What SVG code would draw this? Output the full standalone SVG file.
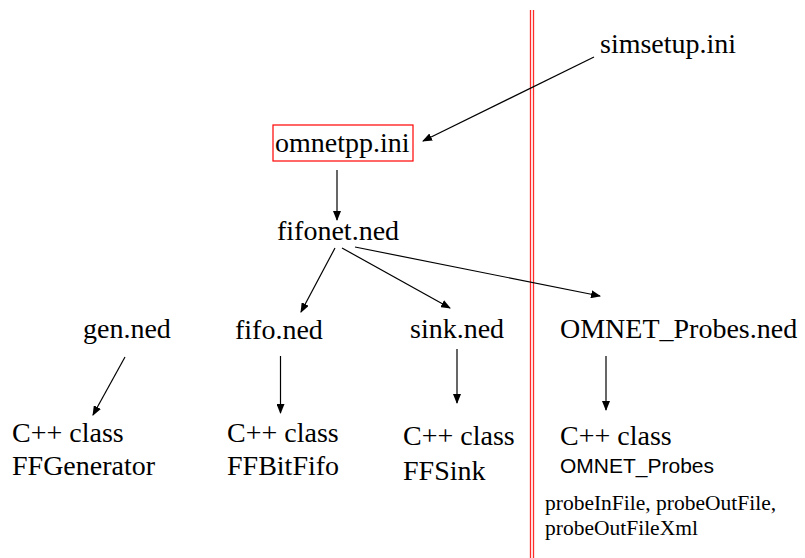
<svg xmlns="http://www.w3.org/2000/svg" width="805" height="558" viewBox="0 0 805 558">
<style>
.t{font-family:"Liberation Serif","Times New Roman",serif;font-size:28px;fill:#000}
.a{font-family:"Liberation Sans",Arial,sans-serif;font-size:21px;fill:#000}
.s{font-family:"Liberation Serif","Times New Roman",serif;font-size:21.5px;fill:#000}
.c{stroke:#000;stroke-width:1.2;fill:none;marker-end:url(#ah)}
.r{stroke:#ff2a2a;stroke-width:1.3}
</style>
<defs>
<marker id="ah" markerWidth="10" markerHeight="8" refX="9" refY="4" orient="auto" markerUnits="userSpaceOnUse">
<path d="M0,0 L10,4 L0,8 z" fill="#000"/>
</marker>
</defs>
<rect width="805" height="558" fill="#fff"/>
<g id="divider">
<line class="r" x1="530.5" y1="10" x2="530.5" y2="558"/>
<line class="r" x1="533.5" y1="10" x2="533.5" y2="558"/>
</g>
<g id="connectors">
<line class="c" x1="594" y1="57" x2="423" y2="141"/>
<line class="c" x1="337" y1="170" x2="337" y2="220"/>
<line class="c" x1="335" y1="248" x2="301" y2="312"/>
<line class="c" x1="342" y1="248" x2="450" y2="308"/>
<line class="c" x1="355" y1="247" x2="600" y2="296"/>
<line class="c" x1="125" y1="357" x2="93" y2="415"/>
<line class="c" x1="280.5" y1="356" x2="280.5" y2="413"/>
<line class="c" x1="457" y1="349" x2="457" y2="403"/>
<line class="c" x1="606" y1="356" x2="606" y2="410"/>
</g>
<g id="simsetup"><text class="t" x="600" y="53">simsetup.ini</text></g>
<g id="omnetpp"><rect x="273" y="125" width="140" height="36" fill="none" stroke="#ff0000" stroke-width="1.2"/><text class="t" x="275" y="152">omnetpp.ini</text></g>
<g id="fifonet"><text class="t" x="277" y="240">fifonet.ned</text></g>
<g id="gen"><text class="t" x="83" y="338">gen.ned</text></g>
<g id="fifo"><text class="t" x="235" y="339">fifo.ned</text></g>
<g id="sink"><text class="t" x="410" y="338">sink.ned</text></g>
<g id="probesned"><text class="t" x="560" y="338">OMNET_Probes.ned</text></g>
<g id="ffgenerator"><text class="t" x="12" y="442">C++ class</text><text class="t" x="12" y="475">FFGenerator</text></g>
<g id="ffbitfifo"><text class="t" x="227" y="442">C++ class</text><text class="t" x="227" y="475">FFBitFifo</text></g>
<g id="ffsink"><text class="t" x="403" y="445">C++ class</text><text class="t" x="403" y="480">FFSink</text></g>
<g id="omnetprobes"><text class="t" x="560" y="445">C++ class</text><text class="a" x="560" y="473">OMNET_Probes</text></g>
<g id="params"><text class="s" x="545" y="510">probeInFile, probeOutFile,</text><text class="s" x="545" y="535">probeOutFileXml</text></g>
</svg>
